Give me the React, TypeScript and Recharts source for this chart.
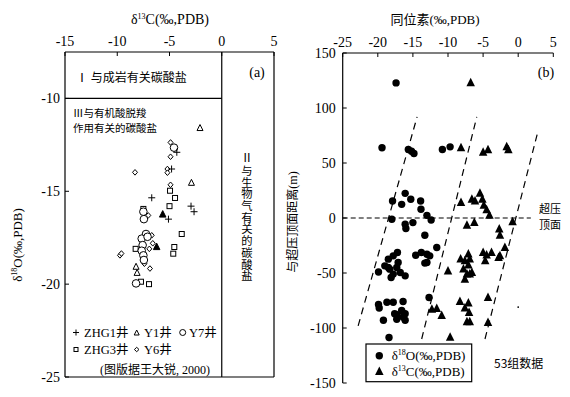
import React from 'react';
import { ScatterChart, Scatter, XAxis, YAxis, ReferenceLine } from 'recharts';

const SERIF = "'Liberation Serif', 'Noto Sans CJK SC', serif";
const CJK = "'Noto Sans CJK SC', sans-serif";

// ---------- Panel (a) data: [δ13C, δ18O] ----------
const aXTicks = [-15, -10, -5, 0, 5];
const aYTicks = [-25, -20, -15, -10];
const zhg1: [number, number][] = [
  [-4.3, -12.9], [-4.8, -13.8], [-6.7, -15.35], [-2.94, -15.8], [-2.65, -16.1], [-5.1, -16.5],
];
const y1Open: [number, number][] = [
  [-2.08, -11.6], [-2.9, -14.55], [-8.2, -19.07], [-8.1, -19.4],
];
const y1Filled: [number, number][] = [
  [-5.65, -16.25], [-6.23, -18.0],
];
const y7: [number, number][] = [
  [-4.57, -12.65], [-7.5, -16.1], [-7.45, -16.5], [-7.25, -17.3], [-7.66, -17.55], [-7.1, -17.45],
  [-7.57, -17.9], [-7.66, -18.2], [-7.5, -18.45], [-7.45, -18.7], [-8.2, -19.96],
];
const zhg3: [number, number][] = [
  [-4.95, -14.97], [-4.47, -15.36], [-5.0, -15.8], [-3.83, -17.3], [-4.54, -18.0], [-4.64, -18.36],
  [-8.24, -18.1], [-7.73, -19.87], [-6.96, -20.0], [-7.5, -15.95],
];
const y6: [number, number][] = [
  [-4.9, -12.37], [-4.9, -13.14], [-8.3, -13.98], [-5.2, -13.8], [-5.2, -14.0], [-4.9, -14.65],
  [-7.03, -16.3], [-6.6, -17.8], [-6.93, -18.1], [-9.74, -18.45], [-9.6, -18.35], [-6.87, -19.16],
  [-6.7, -17.37], [-7.4, -18.9],
];

// ---------- Panel (b) data: [isotope, distance m] ----------
const bXTicks = [-25, -20, -15, -10, -5, 0, 5];
const bYTicks = [-150, -100, -50, 0, 50, 100, 150];
const o18: [number, number][] = [
  [-17.4, 122.8], [-19.4, 63.8], [-15.65, 62.3], [-15.2, 60.7], [-14.85, 58.7], [-10.8, 62.3], [-9.7, 64.7],
  [-17.9, 15.4], [-16.6, 12.4], [-16.1, 22.4], [-15.3, 17], [-13.9, 15.4], [-13.85, 7.9], [-13.0, 2.4],
  [-12.4, -1.8], [-18.0, -1.2], [-16.1, -5.7], [-16.0, -9.6], [-15.0, -4.2], [-13.3, -15.7], [-11.6, -26.8],
  [-18.5, -37.4], [-17.8, -34.4], [-17.2, -31.4], [-14.6, -33.8], [-13.8, -31.4], [-13.0, -32.9], [-13.3, -41],
  [-12.6, -34.4], [-19.9, -49.1], [-19.0, -43.5], [-18.3, -46.5], [-17.8, -51], [-17.3, -45], [-16.8, -49.6],
  [-16.1, -52.6], [-18.1, -54.1], [-17.1, -40.4], [-13.0, -40.4], [-18.5, -45],
  [-19.9, -78.7], [-19.8, -81.8], [-18.7, -76.6], [-17.8, -76.6], [-16.4, -75.9], [-17.6, -87], [-17.3, -87.9],
  [-16.6, -84], [-16.1, -87], [-16.4, -90], [-16.1, -93], [-19.2, -93], [-17.3, -92.1], [-18.4, -108.6],
  [-12.7, -72.3],
];
const c13: [number, number][] = [
  [-6.77, 122.8], [-8.15, 63.8], [-5.0, 59.6], [-4.3, 61.9], [-1.64, 64.7], [-1.4, 62],
  [-8.15, 14], [-6.6, 17], [-6.15, 15.4], [-5.45, 22.4], [-5.1, 17], [-4.9, 11.5], [-4.5, 7.3], [-4.1, 2.4],
  [-7.3, -6.6], [-6.25, -4.2], [-2.7, -10.2], [-2.6, -15.7], [-0.8, -3.6],
  [-8.2, -37.4], [-7.1, -32.9], [-6.9, -37.4], [-5.0, -31.4], [-3.8, -31.4], [-4.5, -33.8], [-2.6, -34.4],
  [-2.8, -36], [-1.9, -26.8], [-4.7, -38.9], [-7.6, -38.9],
  [-10.0, -48.2], [-7.8, -46.5], [-7.3, -51], [-7.6, -55.7], [-7.1, -42.9], [-6.6, -49.6], [-6.9, -51],
  [-12.3, -83], [-11.6, -82.4], [-10.9, -88.8], [-9.7, -108.6], [-8.3, -75.9], [-7.1, -77.4], [-7.6, -81.9],
  [-7.0, -86], [-7.3, -94.5], [-6.9, -94.5], [-4.3, -72.3], [-4.3, -95],
];
const stray: [number, number][] = [[0, -81]];
const trendLines: [number, number, number, number][] = [
  [-22.8, -98, -14.4, 92],
  [-13.75, -110, -5.9, 92],
  [-4.73, -110, 2.7, 76],
];
const overpressureTop: [number, number] = [-25, 1.8];

const toPts = (a: [number, number][]) => a.map(([x, y]) => ({ x, y }));

// ---------- marker shapes ----------
const K = '#000';
const PlusShape = (p: any) => (
  <path d={`M${p.cx - 3.5},${p.cy}H${p.cx + 3.5}M${p.cx},${p.cy - 3.5}V${p.cy + 3.5}`} stroke={K} strokeWidth={1} fill="none" />
);
const triPath = (cx: number, cy: number, s: number) =>
  `M${cx},${cy - s * 0.6}L${cx + s / 2},${cy + s * 0.4}L${cx - s / 2},${cy + s * 0.4}Z`;
const OpenTri = (p: any) => <path d={triPath(p.cx, p.cy, 6)} stroke={K} strokeWidth={1} fill="#fff" />;
const FillTri = (p: any) => <path d={triPath(p.cx, p.cy, 6.5)} stroke={K} strokeWidth={1} fill={K} />;
const OpenCircle = (p: any) => <circle cx={p.cx} cy={p.cy} r={3.8} stroke={K} strokeWidth={1} fill="#fff" />;
const OpenSquare = (p: any) => <rect x={p.cx - 2.5} y={p.cy - 2.5} width={5} height={5} stroke={K} strokeWidth={1} fill="#fff" />;
const OpenDiamond = (p: any) => (
  <path d={`M${p.cx},${p.cy - 2.8}L${p.cx + 2.5},${p.cy}L${p.cx},${p.cy + 2.8}L${p.cx - 2.5},${p.cy}Z`} stroke={K} strokeWidth={1} fill="#fff" />
);
const BigDot = (p: any) => <circle cx={p.cx} cy={p.cy} r={3.7} fill={K} />;
const BigTri = (p: any) => <path d={triPath(p.cx, p.cy, 8.5)} fill={K} />;
const TinyDot = (p: any) => <circle cx={p.cx} cy={p.cy} r={0.9} fill={K} />;

const tickStyle = { fill: K, fontSize: 14, fontFamily: SERIF };

const PanelA = () => (
  <ScatterChart width={290} height={397} margin={{ top: 22, right: 16, bottom: 20, left: 25 }}>
    <XAxis
      dataKey="x" type="number" orientation="top" domain={[-15, 5]} ticks={aXTicks} height={30}
      tick={tickStyle} tickSize={-4} tickMargin={10} stroke={K} axisLine={{ stroke: K, strokeWidth: 1.2 }}
      interval={0} allowDataOverflow
    />
    <YAxis
      dataKey="y" type="number" domain={[-25, -7.5]} ticks={aYTicks} width={40}
      tick={tickStyle} tickSize={-4} tickMargin={9} stroke={K} axisLine={{ stroke: K, strokeWidth: 1.2 }}
      interval={0} allowDataOverflow
    />
    <ReferenceLine x={5} stroke={K} strokeWidth={1.2} />
    <ReferenceLine y={-25} stroke={K} strokeWidth={1.2} />
    <ReferenceLine x={0} stroke={K} strokeWidth={1.2} />
    <ReferenceLine segment={[{ x: -15, y: -10 }, { x: 0, y: -10 }]} stroke={K} strokeWidth={1.2} />
    <Scatter data={toPts(zhg3)} shape={OpenSquare} isAnimationActive={false} />
    <Scatter data={toPts(y6)} shape={OpenDiamond} isAnimationActive={false} />
    <Scatter data={toPts(y7)} shape={OpenCircle} isAnimationActive={false} />
    <Scatter data={toPts(zhg1)} shape={PlusShape} isAnimationActive={false} />
    <Scatter data={toPts(y1Open)} shape={OpenTri} isAnimationActive={false} />
    <Scatter data={toPts(y1Filled)} shape={FillTri} isAnimationActive={false} />
  </ScatterChart>
);

const PanelB = () => (
  <ScatterChart width={280} height={397} margin={{ top: 23, right: 16.7, bottom: 14, left: 12.7 }}>
    <XAxis
      dataKey="x" type="number" orientation="top" domain={[-25, 5]} ticks={bXTicks} height={30}
      tick={tickStyle} tickSize={-4} tickMargin={10} stroke={K} axisLine={{ stroke: K, strokeWidth: 1.2 }}
      interval={0} allowDataOverflow
    />
    <YAxis
      dataKey="y" type="number" domain={[-150, 150]} ticks={bYTicks} width={40}
      tick={tickStyle} tickSize={-4} tickMargin={11} stroke={K} axisLine={{ stroke: K, strokeWidth: 1.2 }}
      interval={0} allowDataOverflow
    />
    <ReferenceLine
      segment={[{ x: overpressureTop[0], y: 0 }, { x: overpressureTop[1], y: 0 }]}
      stroke={K} strokeWidth={1.1} strokeDasharray="5 3"
    />
    {trendLines.map((l, i) => (
      <ReferenceLine key={i} segment={[{ x: l[0], y: l[1] }, { x: l[2], y: l[3] }]} stroke={K} strokeWidth={1.2} strokeDasharray="7 5" />
    ))}
    <Scatter data={toPts(o18)} shape={BigDot} isAnimationActive={false} />
    <Scatter data={toPts(c13)} shape={BigTri} isAnimationActive={false} />
    <Scatter data={toPts(stray)} shape={TinyDot} isAnimationActive={false} />
  </ScatterChart>
);

const Overlay = () => (
  <svg width={570} height={397} style={{ position: 'absolute', left: 0, top: 0, pointerEvents: 'none' }}>
    {/* Panel a texts */}
    <text x={170} y={24} textAnchor="middle" fontFamily={SERIF} fontSize={14} fill={K}>
      δ<tspan fontSize={8} dy={-5}>13</tspan><tspan dy={5}>C(‰,PDB)</tspan>
    </text>
    <text transform="translate(22,245) rotate(-90)" textAnchor="middle" fontFamily={SERIF} fontSize={13} fill={K}>
      δ<tspan fontSize={8} dy={-5}>18</tspan><tspan dy={5}>O(‰,PDB)</tspan>
    </text>
    <text x={76} y={82} fontFamily={CJK} fontSize={12} fill={K}>Ⅰ 与成岩有关碳酸盐</text>
    <text x={257} y={77} textAnchor="middle" fontFamily={SERIF} fontSize={14} fill={K}>(a)</text>
    <text x={73} y={117} fontFamily={CJK} fontSize={10.5} fill={K}>Ⅲ与有机酸脱羧</text>
    <text x={73} y={132} fontFamily={CJK} fontSize={10.5} fill={K}>作用有关的碳酸盐</text>
    <text x={247} y={162} textAnchor="middle" fontFamily={SERIF} fontSize={12} fill={K}>Ⅱ</text>
    <text
      x={247} y={165} fontFamily={CJK} fontSize={11.3} fill={K} letterSpacing={0.4}
      style={{ writingMode: 'vertical-rl' } as any}
    >与生物气有关的碳酸盐</text>
    {/* legend a */}
    <path d="M73,332.5H79M76,329.5V335.5" stroke={K} strokeWidth={1} />
    <text x={84} y={337} fontFamily={SERIF} fontSize={12.5} fill={K}>ZHG1井</text>
    <path d={triPath(136.7, 333, 5)} stroke={K} strokeWidth={1} fill="#fff" />
    <text x={144} y={337} fontFamily={SERIF} fontSize={12.5} fill={K}>Y1井</text>
    <circle cx={182.7} cy={332.5} r={3} stroke={K} strokeWidth={1} fill="#fff" />
    <text x={189} y={337} fontFamily={SERIF} fontSize={12.5} fill={K}>Y7井</text>
    <rect x={74} y={347.5} width={4} height={4} stroke={K} strokeWidth={1} fill="#fff" />
    <text x={84} y={354} fontFamily={SERIF} fontSize={12.5} fill={K}>ZHG3井</text>
    <path d="M136.7,347.3L139,349.5L136.7,351.7L134.4,349.5Z" stroke={K} strokeWidth={1} fill="#fff" />
    <text x={144} y={354} fontFamily={SERIF} fontSize={12.5} fill={K}>Y6井</text>
    <text x={100} y={374} fontFamily={SERIF} fontSize={12} fill={K}>(图版据王大锐, 2000)</text>

    {/* Panel b texts */}
    <text x={435} y={24} textAnchor="middle" fontFamily={SERIF} fontSize={13} fill={K}>同位素(‰,PDB)</text>
    <text transform="translate(297,222) rotate(-90)" textAnchor="middle" fontFamily={SERIF} fontSize={12} fill={K}>与超压顶面距离(m)</text>
    <text x={546} y={77} textAnchor="middle" fontFamily={SERIF} fontSize={14} fill={K}>(b)</text>
    <text x={539} y={213} fontFamily={CJK} fontSize={11} fill={K}>超压</text>
    <text x={539} y={229} fontFamily={CJK} fontSize={11} fill={K}>顶面</text>
    <rect x={366} y={344} width={105.7} height={37.7} stroke={K} strokeWidth={1.2} fill="#fff" />
    <circle cx={379.3} cy={355.7} r={3.7} fill={K} />
    <text x={391.7} y={360} fontFamily={SERIF} fontSize={13} fill={K}>
      δ<tspan fontSize={8} dy={-5}>18</tspan><tspan dy={5}>O(‰,PDB)</tspan>
    </text>
    <path d={triPath(379.3, 371.7, 8.5)} fill={K} />
    <text x={391.7} y={376} fontFamily={SERIF} fontSize={13} fill={K}>
      δ<tspan fontSize={8} dy={-5}>13</tspan><tspan dy={5}>C(‰,PDB)</tspan>
    </text>
    <text x={494} y={368} fontFamily={CJK} fontSize={12} fill={K}>53组数据</text>
  </svg>
);

export default function App() {
  return (
    <div style={{ position: 'absolute', left: 0, top: 0, width: 570, height: 397, background: '#fff', overflow: 'hidden' }}>
      <div style={{ position: 'absolute', left: 0, top: 0 }}>
        <PanelA />
      </div>
      <div style={{ position: 'absolute', left: 290, top: 0 }}>
        <PanelB />
      </div>
      <Overlay />
    </div>
  );
}
